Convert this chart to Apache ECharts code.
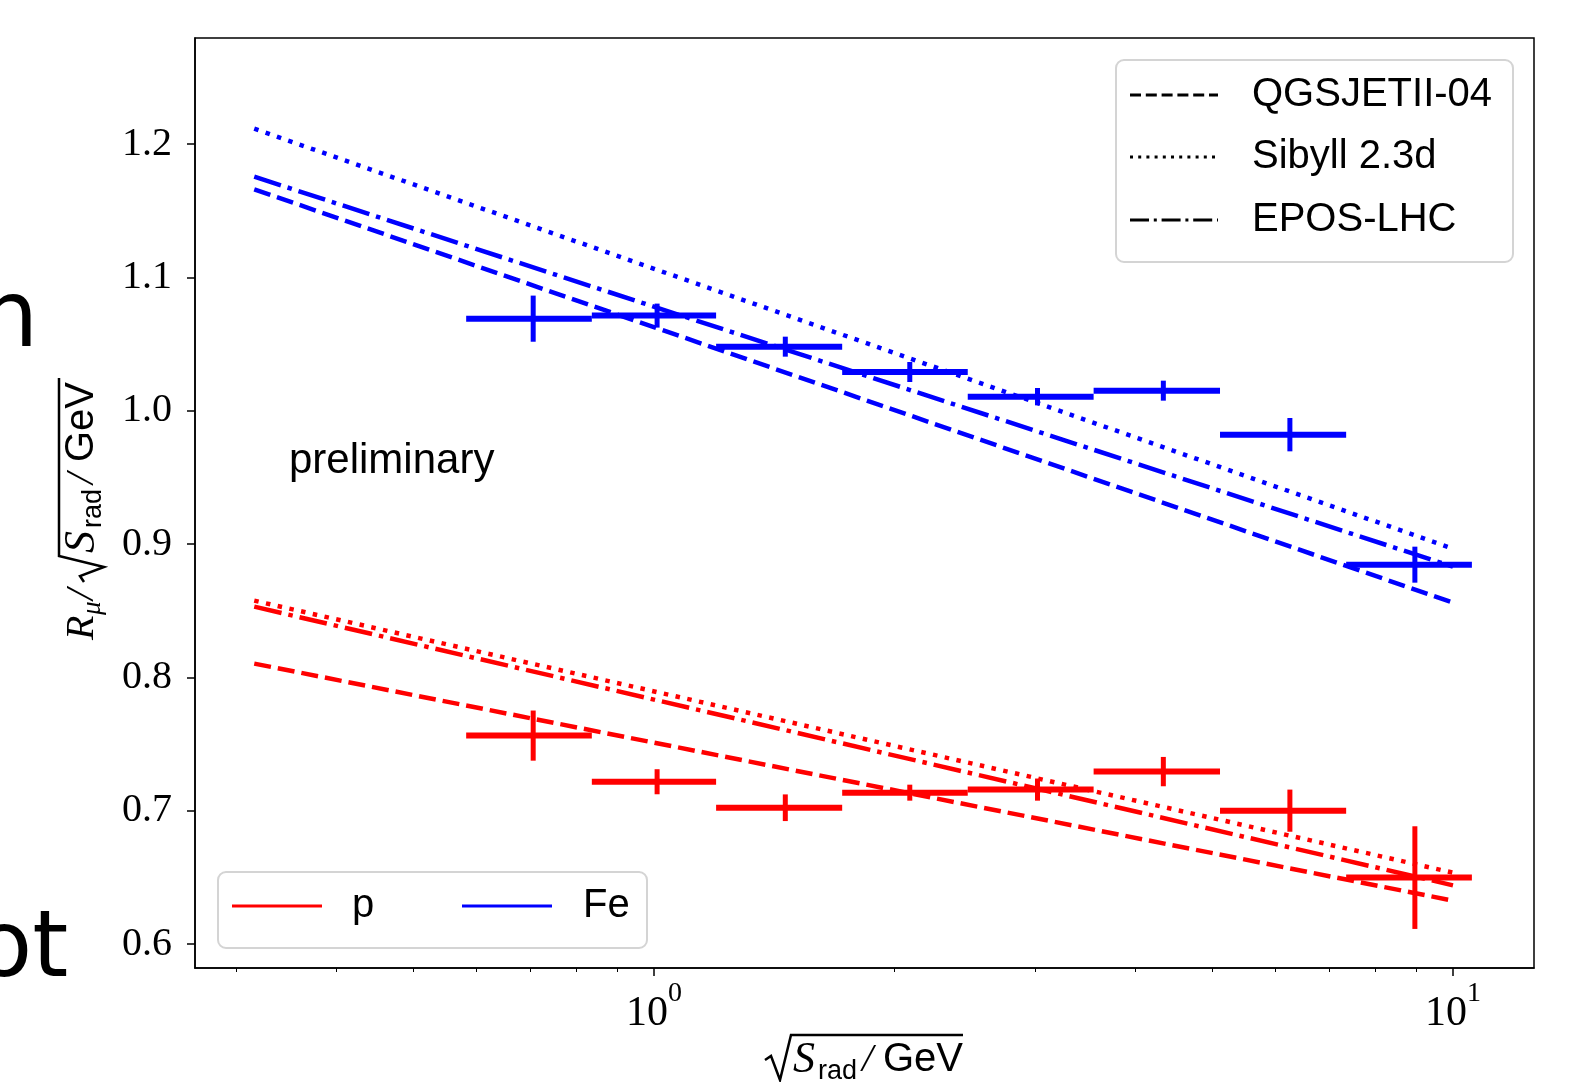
<!DOCTYPE html>
<html>
<head>
<meta charset="utf-8">
<script src="https://cdn.jsdelivr.net/npm/echarts@6/dist/echarts.min.js"></script>
<style>
  html, body { margin: 0; padding: 0; background: #fff; }
  #chart { width: 1570px; height: 1082px; }
</style>
</head>
<body>
<div id="chart"></div>
<script>
// bins in sqrt(S_rad/GeV)
const binCenter = [0.706, 1.009, 1.46, 2.09, 3.02, 4.34, 6.25, 8.96];
const binLow    = [0.582, 0.836, 1.196, 1.72, 2.47, 3.55, 5.11, 7.35];
const binHigh   = [0.836, 1.196, 1.72, 2.47, 3.55, 5.11, 7.35, 10.56];

// measured R_mu / sqrt(S_rad/GeV)
const feVal = [1.069, 1.0713, 1.048, 1.029, 1.0105, 1.015, 0.982, 0.8845];
const feErr = [0.0173, 0.009, 0.0075, 0.0075, 0.0065, 0.0075, 0.0125, 0.0135];
const pVal  = [0.7563, 0.7217, 0.7022, 0.7135, 0.7158, 0.7293, 0.700, 0.6498];
const pErr  = [0.0188, 0.0094, 0.010, 0.006, 0.0083, 0.011, 0.0158, 0.0385];

// model predictions (end points of the lines)
const modelX = [0.316, 10];
const feQGS  = [1.166, 0.856];
const feSib  = [1.2115, 0.8965];
const feEPOS = [1.1755, 0.883];
const pQGS   = [0.8103, 0.6325];
const pSib   = [0.8575, 0.6535];
const pEPOS  = [0.853, 0.644];

const yTicks = [0.6, 0.7, 0.8, 0.9, 1.0, 1.1, 1.2];
const xMajor = [1, 10];
const xMinor = [0.3, 0.4, 0.5, 0.6, 0.7, 0.8, 0.9, 2, 3, 4, 5, 6, 7, 8, 9];

const RED = '#ff0000';
const BLUE = '#0000ff';
const DASHED = [17, 7];
const DOTTED = [4.5, 7.5];
const DASHDOT = [28, 7, 4.5, 7];

const chart = echarts.init(document.getElementById('chart'));

function modelLine(ys, color, dash) {
  return {
    type: 'line',
    data: modelX.map((x, i) => [x, ys[i]]),
    symbol: 'none',
    silent: true,
    lineStyle: { color: color, width: 4.5, type: dash, cap: 'butt' },
    z: 2
  };
}

function errorBars(vals, errs, color) {
  return {
    type: 'custom',
    data: binCenter.map((c, i) => [c, binLow[i], binHigh[i], vals[i], errs[i]]),
    encode: { x: [0, 1, 2], y: 3 },
    z: 3,
    renderItem: function (params, api) {
      const c = api.value(0), lo = api.value(1), hi = api.value(2);
      const v = api.value(3), e = api.value(4);
      const left = api.coord([lo, v]);
      const right = api.coord([hi, v]);
      const top = api.coord([c, v + e]);
      const bot = api.coord([c, v - e]);
      return {
        type: 'group',
        children: [
          { type: 'line', shape: { x1: left[0], y1: left[1], x2: right[0], y2: right[1] },
            style: { stroke: color, lineWidth: 6 } },
          { type: 'line', shape: { x1: top[0], y1: top[1], x2: bot[0], y2: bot[1] },
            style: { stroke: color, lineWidth: 5 } }
        ]
      };
    }
  };
}

function txt(x, y, text, size, extra) {
  return {
    type: 'text', x: x, y: y,
    style: Object.assign({
      text: text, fill: '#000', fontSize: size,
      fontFamily: 'Liberation Sans', verticalAlign: 'middle', align: 'left'
    }, extra || {})
  };
}

const serifIt = { fontFamily: 'Liberation Serif', fontStyle: 'italic' };

const option = {
  backgroundColor: '#fff',
  animation: false,
  grid: {
    left: 195, right: 36, top: 38, bottom: 114,
    show: true, borderColor: '#000', borderWidth: 1.5
  },
  xAxis: [
    {
      type: 'log', logBase: 10, min: 0.2664, max: 12.63,
      axisLine: { show: true, lineStyle: { color: '#000', width: 1.5 } },
      axisTick: { show: true, customValues: xMajor, length: 8, lineStyle: { color: '#000', width: 1.5 } },
      axisLabel: {
        customValues: xMajor, margin: 12,
        formatter: v => '{b|10}{e|' + Math.round(Math.log10(v)) + '}',
        rich: {
          b: { fontFamily: 'Liberation Serif', fontSize: 42, color: '#000' },
          e: { fontFamily: 'Liberation Serif', fontSize: 28, color: '#000', padding: [0, 0, 40, 0] }
        }
      },
      splitLine: { show: false }
    },
    {
      type: 'log', logBase: 10, min: 0.2664, max: 12.63, position: 'bottom',
      axisLine: { show: false },
      axisTick: { show: true, customValues: xMinor, length: 4, lineStyle: { color: '#000', width: 1 } },
      axisLabel: { show: false },
      splitLine: { show: false }
    }
  ],
  yAxis: {
    type: 'value', min: 0.582, max: 1.2795,
    axisLine: { show: true, lineStyle: { color: '#000', width: 1.5 } },
    axisTick: { show: true, customValues: yTicks, length: 8, lineStyle: { color: '#000', width: 1.5 } },
    axisLabel: {
      customValues: yTicks, margin: 23,
      formatter: v => v.toFixed(1),
      fontFamily: 'Liberation Serif', fontSize: 40, color: '#000'
    },
    splitLine: { show: false }
  },
  series: [
    modelLine(feQGS, BLUE, DASHED),
    modelLine(feSib, BLUE, DOTTED),
    modelLine(feEPOS, BLUE, DASHDOT),
    modelLine(pQGS, RED, DASHED),
    modelLine(pSib, RED, DOTTED),
    modelLine(pEPOS, RED, DASHDOT),
    errorBars(feVal, feErr, BLUE),
    errorBars(pVal, pErr, RED)
  ],
  graphic: [
    // cut-off words from the neighbouring slide
    txt(-20, 322, 'n', 92, { fontFamily: 'DejaVu Sans' }),
    txt(-24, 952, 'ot', 92, { fontFamily: 'DejaVu Sans' }),

    txt(289, 461, 'preliminary', 42),

    // model legend
    { type: 'rect', shape: { x: 1116, y: 60, width: 397, height: 202, r: 8 },
      style: { fill: 'rgba(255,255,255,0.8)', stroke: '#d4d4d4', lineWidth: 2 }, z: 10 },
    { type: 'line', shape: { x1: 1130, y1: 95, x2: 1218, y2: 95 },
      style: { stroke: '#000', lineWidth: 3, lineDash: [11, 4.8] }, z: 11 },
    { type: 'line', shape: { x1: 1130, y1: 157, x2: 1218, y2: 157 },
      style: { stroke: '#000', lineWidth: 3, lineDash: [3, 5.2] }, z: 11 },
    { type: 'line', shape: { x1: 1130, y1: 220, x2: 1218, y2: 220 },
      style: { stroke: '#000', lineWidth: 3, lineDash: [19, 4.8, 3, 4.8] }, z: 11 },
    Object.assign(txt(1252, 95, 'QGSJETII-04', 40), { z: 11 }),
    Object.assign(txt(1252, 157, 'Sibyll 2.3d', 40), { z: 11 }),
    Object.assign(txt(1252, 220, 'EPOS-LHC', 40), { z: 11 }),

    // primary legend
    { type: 'rect', shape: { x: 218, y: 872, width: 429, height: 76, r: 8 },
      style: { fill: 'rgba(255,255,255,0.8)', stroke: '#d4d4d4', lineWidth: 2 }, z: 10 },
    { type: 'line', shape: { x1: 232, y1: 906, x2: 322, y2: 906 },
      style: { stroke: RED, lineWidth: 3 }, z: 11 },
    { type: 'line', shape: { x1: 462, y1: 906, x2: 552, y2: 906 },
      style: { stroke: BLUE, lineWidth: 3 }, z: 11 },
    Object.assign(txt(352, 906, 'p', 40), { z: 11 }),
    Object.assign(txt(583, 906, 'Fe', 40), { z: 11 }),

    // x axis name: sqrt(S_rad/GeV)
    { type: 'polyline', shape: { points: [[765, 1060], [771, 1056], [780, 1080], [791, 1035], [963, 1035]] },
      style: { stroke: '#000', lineWidth: 2.5, fill: null } },
    txt(793, 1060, 'S', 44, serifIt),
    txt(818, 1072, 'rad', 27),
    txt(862, 1060, '/', 40, serifIt),
    txt(883, 1060, 'GeV', 40),

    // y axis name: R_mu / sqrt(S_rad/GeV)
    {
      type: 'group', x: 82, y: 500, rotation: Math.PI / 2,
      children: [
        txt(-140, 0, 'R', 40, serifIt),
        txt(-115, 11, 'μ', 27, serifIt),
        txt(-100, 0, '/', 40, serifIt),
        { type: 'polyline', shape: { points: [[-82, 2], [-76, -2], [-67, 22], [-56, -23], [122, -23]] },
          style: { stroke: '#000', lineWidth: 2.5, fill: null } },
        txt(-53, 0, 'S', 44, serifIt),
        txt(-28, 12, 'rad', 27),
        txt(16, 0, '/', 40, serifIt),
        txt(38, 0, 'GeV', 40)
      ]
    }
  ]
};

chart.setOption(option);
</script>
</body>
</html>
